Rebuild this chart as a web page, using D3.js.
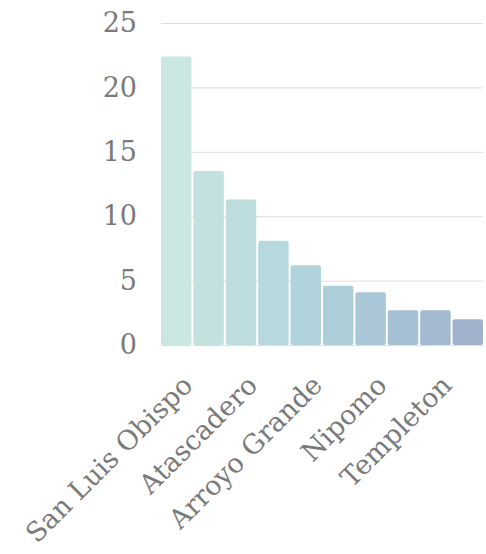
<!DOCTYPE html>
<html>
<head>
<meta charset="utf-8">
<script src="https://cdn.jsdelivr.net/npm/d3@7"></script>
<style>
	body { margin: 0; background: #fff; }
	text { font-family: "DejaVu Serif", serif; fill: #7a7a7a; }
</style>
</head>
<body>
<div id="app"></div>
<script>
const towns = ["San Luis Obispo", "Paso Robles", "Atascadero", "Los Osos", "Arroyo Grande",
	"Grover Beach", "Nipomo", "Morro Bay", "Templeton", "Pismo Beach"];
const values = [22.4, 13.5, 11.3, 8.1, 6.2, 4.6, 4.1, 2.7, 2.7, 2.0];
const yTicks = [0, 5, 10, 15, 20, 25];
const labelled = ["San Luis Obispo", "Atascadero", "Arroyo Grande", "Nipomo", "Templeton"];

const config = {
	width: 486,
	height: 554,
	margin: { top: 23, right: 3, bottom: 209, left: 161 },
	colors: ["#c9e6e0", "#aed2db", "#a0b2cc"]
};

const innerW = config.width - config.margin.left - config.margin.right;
const innerH = config.height - config.margin.top - config.margin.bottom;

const svg = d3.select("#app").append("svg")
	.attr("width", config.width)
	.attr("height", config.height);

const g = svg.append("g")
	.attr("transform", `translate(${config.margin.left},${config.margin.top})`);

const x = d3.scaleBand()
	.domain(towns)
	.range([0, innerW])
	.paddingInner(0.06)
	.paddingOuter(0);

const y = d3.scaleLinear()
	.domain([0, 25])
	.range([innerH, 0]);

const color = d3.scaleLinear()
	.domain([0, (towns.length - 1) / 2, towns.length - 1])
	.range(config.colors)
	.interpolate(d3.interpolateRgb);

// grid
g.append("g")
	.selectAll("line")
	.data(yTicks)
	.enter()
	.append("line")
	.attr("x1", 0)
	.attr("x2", innerW)
	.attr("y1", d => y(d) + 0.5)
	.attr("y2", d => y(d) + 0.5)
	.attr("stroke", "#dedede")
	.attr("stroke-width", 1);

// bars
g.append("g")
	.selectAll("rect")
	.data(values)
	.enter()
	.append("rect")
	.attr("x", (d, i) => x(towns[i]))
	.attr("y", d => y(d))
	.attr("width", x.bandwidth())
	.attr("height", d => innerH - y(d))
	.attr("rx", 2)
	.attr("fill", (d, i) => color(i));

// y axis
const yAxis = g.append("g")
	.call(d3.axisLeft(y).tickValues(yTicks).tickSize(0).tickPadding(24));
yAxis.select(".domain").remove();
yAxis.selectAll("text")
	.attr("font-size", 27)
	.style("font-family", "DejaVu Serif");

// x axis, only every other town is labelled
const xAxis = g.append("g")
	.attr("transform", `translate(0,${innerH})`)
	.call(d3.axisBottom(x).tickSize(0).tickFormat(d => labelled.includes(d) ? d : ""));
xAxis.select(".domain").remove();
xAxis.selectAll("text")
	.attr("font-size", 27)
	.style("font-family", "DejaVu Serif")
	.attr("text-anchor", "end")
	.attr("x", 0)
	.attr("y", 0)
	.attr("dy", 0)
	.attr("transform", "translate(18,42) rotate(-45)");
</script>
</body>
</html>
